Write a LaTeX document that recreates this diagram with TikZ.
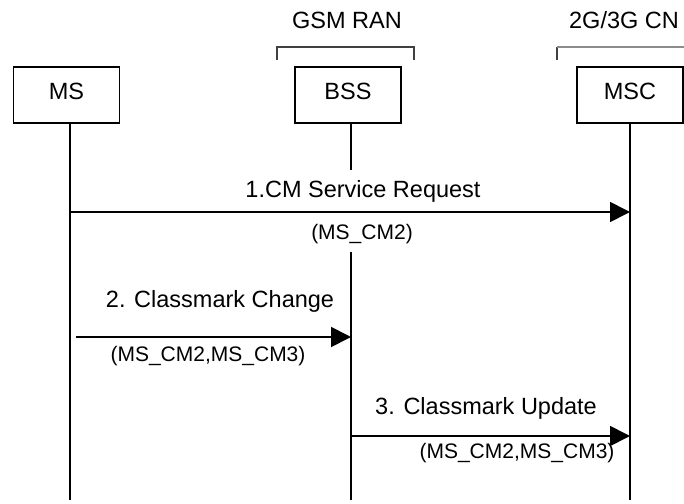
\documentclass[tikz,border=0pt]{standalone}
\usepackage{fontspec}
\setmainfont{Liberation Sans}
\usetikzlibrary{arrows.meta}
\begin{document}
\begin{tikzpicture}[x=1pt,y=-1pt,
  entity/.style={draw, line width=1.8pt, minimum width=106pt, minimum height=56pt,
    inner sep=0pt, font=\fontsize{23.5}{28}\selectfont, text depth=8pt},
  life/.style={line width=1.2pt},
  msg/.style={line width=1.7pt, -{Triangle[length=20pt,width=20pt]}},
  big/.style={font=\fontsize{23.5}{28}\selectfont, inner sep=0pt, anchor=base},
  small/.style={font=\fontsize{21}{25}\selectfont, inner sep=0pt, anchor=base},
  netbracket/.style={line width=1.1pt, draw=black!75}]
\useasboundingbox (0,0) rectangle (684,503);

% network headings with their brackets
\node[big] (ran) at (347,29) {GSM RAN};
\node[big] (cn) at (624,29) {2G/3G CN};
\draw[netbracket] (277,60) -- (277,47) -- (414,47) -- (414,60);
\draw[netbracket] (557,60) -- (557,47);
\draw[netbracket, draw=black!45] (557,47) -- (684,47);

% entities
\node[entity] (ms)  at (66.5,95) {MS};
\node[entity] (bss) at (348,95)  {BSS};
\node[entity] (msc) at (630,95)  {MSC};

% lifelines
\coordinate (msEnd)  at (70,500);
\coordinate (bssEnd) at (351,500);
\coordinate (mscEnd) at (630,500);
\draw[life] (msEnd |- ms.south) -- (msEnd);
\draw[life] (bssEnd |- bss.south) -- (bssEnd);
\draw[life] (mscEnd |- msc.south) -- (mscEnd);

% 1. CM Service Request (labels mask the BSS lifeline)
\node[big, fill=white, text height=27pt, text depth=15pt] (l1a) at (363,197) {1.CM Service Request};
\node[small, fill=white, text height=27pt, text depth=13pt] (l1b) at (362,239) {(MS\_CM2)};
\coordinate (m1s) at (70,212);
\coordinate (m1e) at (630,212);
\draw[msg] (m1s) -- (m1e);

% 2. Classmark Change
\node[big] (l2a) at (220,307) {2. Classmark Change};
\node[small] (l2b) at (208,361) {(MS\_CM2,MS\_CM3)};
\coordinate (m2s) at (76,337);
\coordinate (m2e) at (351,337);
\draw[msg] (m2s) -- (m2e);

% 3. Classmark Update
\node[big] (l3a) at (486,414) {3. Classmark Update};
\coordinate (m3s) at (351,436);
\coordinate (m3e) at (630,436);
\draw[msg] (m3s) -- (m3e);
\node[small] (l3b) at (517,458) {(MS\_CM2,MS\_CM3)};
\end{tikzpicture}
\end{document}
